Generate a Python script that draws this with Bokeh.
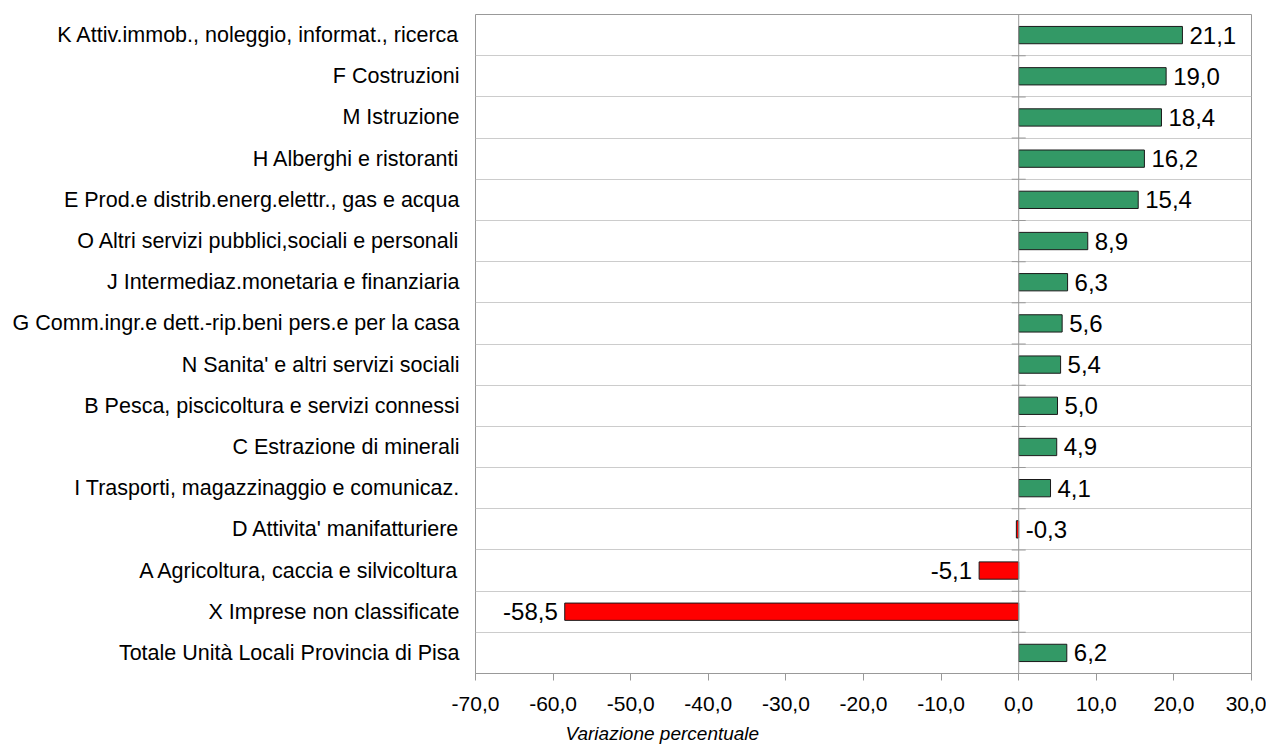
from bokeh.plotting import figure
from bokeh.models import FactorRange, FixedTicker, ColumnDataSource, Span, Title, CustomJSTickFormatter
from bokeh.embed import file_html
from bokeh.resources import INLINE

categories = [
    "K Attiv.immob., noleggio, informat., ricerca",
    "F Costruzioni",
    "M Istruzione",
    "H Alberghi e ristoranti",
    "E Prod.e distrib.energ.elettr., gas e acqua",
    "O Altri servizi pubblici,sociali e personali",
    "J Intermediaz.monetaria e finanziaria",
    "G Comm.ingr.e dett.-rip.beni pers.e per la casa",
    "N Sanita' e altri servizi sociali",
    "B Pesca, piscicoltura e servizi connessi",
    "C Estrazione di minerali",
    "I Trasporti, magazzinaggio e comunicaz.",
    "D Attivita' manifatturiere",
    "A Agricoltura, caccia e silvicoltura",
    "X Imprese non classificate",
    "Totale Unità Locali Provincia di Pisa",
]
values = [21.1, 19.0, 18.4, 16.2, 15.4, 8.9, 6.3, 5.6, 5.4, 5.0, 4.9, 4.1, -0.3, -5.1, -58.5, 6.2]
x_ticks = [-70, -60, -50, -40, -30, -20, -10, 0, 10, 20, 30]
x_title = "Variazione percentuale"

GREEN = "#339966"
RED = "#ff0000"
FONT = "Liberation Sans"

colors = [GREEN if v >= 0 else RED for v in values]
labels = [f"{v:.1f}".replace(".", ",") for v in values]
lab_x = [v if v < -1 else max(v, 0) for v in values]
lab_align = ["right" if v < -1 else "left" for v in values]
lab_off = [-7 if v < -1 else 7 for v in values]

src = ColumnDataSource(dict(cat=categories, val=values, color=colors, lab=labels,
                            lx=lab_x, la=lab_align, lo=lab_off))

boundaries = [i for i in range(0, len(categories) + 1)]

p = figure(width=1266, height=751, output_backend="svg", toolbar_location=None,
           y_range=FactorRange(*reversed(categories)), x_range=(-70, 30),
           min_border_left=475, min_border_right=15, min_border_top=14, min_border_bottom=78)

# grid lines between categories
p.xgrid.visible = False
p.ygrid.ticker = FixedTicker(ticks=boundaries[1:-1])
p.ygrid.grid_line_color = "#cccccc"
p.ygrid.grid_line_width = 1

# zero line
p.add_layout(Span(location=0, dimension="height", line_color="#999999", line_width=1))

# small tick marks on the zero axis at category boundaries
p.rect(x=[0] * len(boundaries), y=boundaries, width=14, width_units="screen",
       height=1, height_units="screen", fill_color="#999999", line_color=None)

p.hbar(y="cat", right="val", left=0, height=0.42, source=src, fill_color="color",
       line_color="#1a1a1a", line_width=1)

p.text(x="lx", y="cat", text="lab", source=src, text_align="la", x_offset="lo",
       text_baseline="middle", text_font_size="24px", text_color="#000000",
       text_font={"value": FONT})

p.outline_line_color = "#999999"
p.outline_line_width = 1

p.xaxis.ticker = FixedTicker(ticks=x_ticks)
p.xaxis.formatter = CustomJSTickFormatter(code="return tick.toFixed(1).replace('.', ',');")
p.xaxis.axis_line_color = "#999999"
p.xaxis.major_tick_line_color = "#999999"
p.xaxis.major_tick_out = 7
p.xaxis.major_tick_in = 0
p.xaxis.minor_tick_line_color = None
p.xaxis.major_label_standoff = 16
p.xaxis.major_label_text_font = FONT
p.xaxis.major_label_text_font_size = "21px"
p.xaxis.major_label_text_color = "#000000"

p.yaxis.axis_line_color = None
p.yaxis.major_tick_line_color = None
p.yaxis.minor_tick_line_color = None
p.yaxis.major_label_standoff = 10
p.yaxis.major_label_text_font = FONT
p.yaxis.major_label_text_font_size = "21.5px"
p.yaxis.major_label_text_color = "#000000"

p.add_layout(Title(text=x_title, align="left", offset=90,
                   text_font=FONT, text_font_style="italic", text_font_size="19px",
                   text_color="#000000", standoff=14), "below")

p.background_fill_color = "white"
p.border_fill_color = "white"

open("out.html", "w").write(file_html(p, INLINE))
